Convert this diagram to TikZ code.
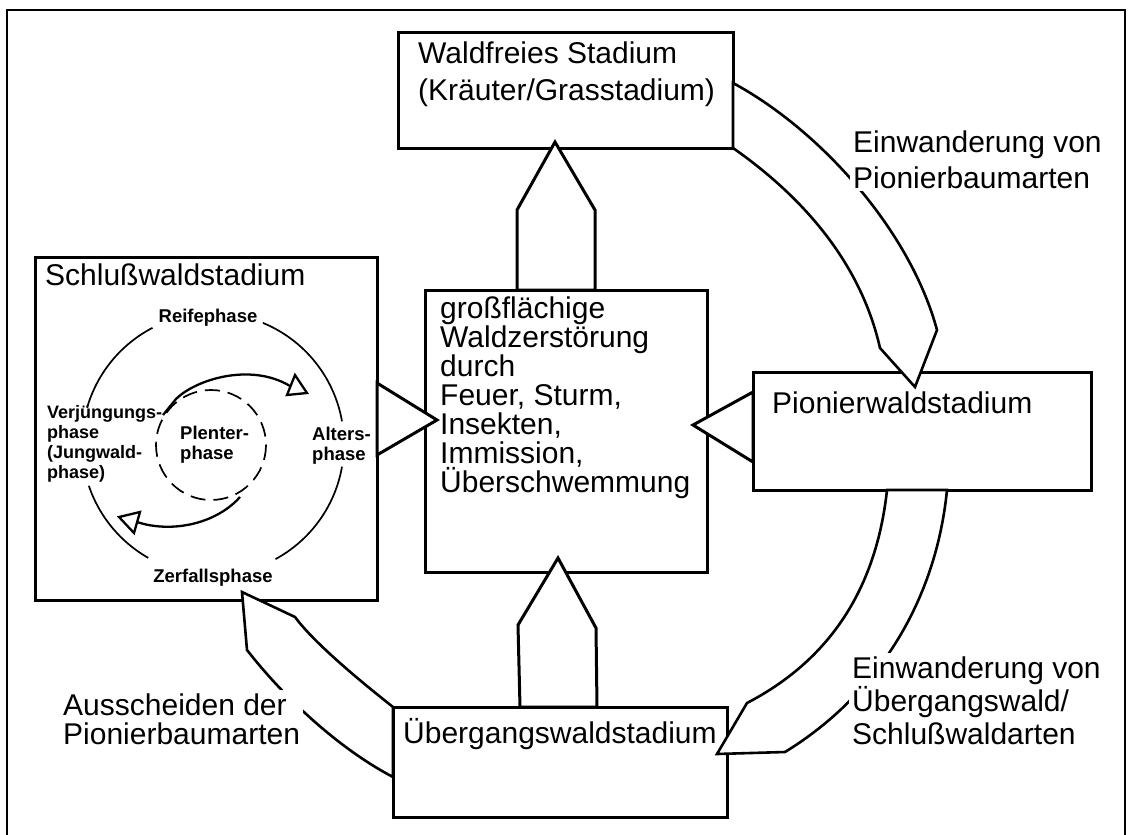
\documentclass[tikz,border=0pt]{standalone}
\usepackage{fontspec}
\setmainfont{Liberation Sans}
\begin{document}
\begin{tikzpicture}[x=1pt,y=-1pt,line join=miter,
  frame/.style={line width=2.5pt},
  stbox/.style={draw,line width=3pt,rectangle,inner sep=0pt,outer sep=0pt},
  bandarrow/.style={draw,fill=white,line width=2.6pt},
  trarrow/.style={draw,fill=white,line width=3pt},
  ring/.style={line width=1.7pt},
  dashring/.style={line width=1.7pt,dash pattern=on 15pt off 8pt},
  cyclearrow/.style={line width=2.3pt},
  opentip/.style={draw,fill=white,line width=2.3pt},
  bigtxt/.style={font=\fontsize{30}{37}\selectfont,align=left,anchor=base west,inner sep=0pt},
  labeltxt/.style={font=\fontsize{30}{36}\selectfont,align=left,anchor=base west,inner sep=3pt,fill=white},
  smalltxt/.style={font=\fontsize{18.5}{19.5}\selectfont\bfseries,align=left,inner sep=0pt}
]
\useasboundingbox (0,0) rectangle (1130,835);
% outer frame
\draw[frame] (7,835) -- (7,10) -- (1125,10) -- (1125,835);

% boxes
\node[stbox,minimum width=335pt,minimum height=116pt] (top) at (565.5,90) {};
\node[stbox,minimum width=282pt,minimum height=282pt] (cen) at (566,431) {};
\node[stbox,minimum width=342pt,minimum height=343pt] (left) at (206,428.5) {};
\node[stbox,minimum width=338pt,minimum height=118pt] (pion) at (922,431) {};
\node[stbox,minimum width=334pt,minimum height=110pt] (ueb) at (560,762) {};

% block arrows up
\path[trarrow] (517,0 |- cen.north) -- (517,210) -- (555,142) -- (595,210) -- (595,0 |- cen.north) -- cycle;
\path[trarrow] (520,0 |- ueb.north) -- (518,625) -- (558,558) -- (596,628) -- (597,0 |- ueb.north) -- cycle;
% triangles into centre box
\path[trarrow] (left.east |- 0,383) -- (437,420) -- (left.east |- 0,455) -- cycle;
\path[trarrow] (pion.west |- 0,392) -- (693,425) -- (pion.west |- 0,462) -- cycle;

% curved band arrows
\path[bandarrow] (top.east |- 0,83) .. controls (820,130) and (910,230) .. (937,330)
  -- (915,387) -- (880,348) .. controls (860,260) and (800,195) .. (top.south east) -- cycle;
\path[bandarrow] (947,0 |- pion.south) .. controls (935,610) and (870,700) .. (785,752)
  -- (717,754) -- (747,703) .. controls (820,665) and (875,600) .. (887,0 |- pion.south) -- cycle;
\path[bandarrow] (ueb.north west) .. controls (350,673) and (312,640) .. (295,617)
  -- (242,592) -- (247,650) .. controls (290,705) and (345,752) .. (ueb.west |- 0,777) -- cycle;

% cycle inside Schlusswald box
\coordinate (cc) at (213,444);
\draw[ring] (cc) ++(-117.5:131) arc[start angle=-117.5,end angle=-163.9,radius=131];
\draw[ring] (cc) ++(-198.6:131) arc[start angle=-198.6,end angle=-240.4,radius=131];
\draw[ring] (cc) ++(-298.5:131) arc[start angle=-298.5,end angle=-350,radius=131];
\draw[ring] (cc) ++(-10:131) arc[start angle=-10,end angle=-67.6,radius=131];
\draw[dashring] (211,445) circle[radius=55];

\coordinate (ua) at (163,415);
\coordinate (ub) at (290,386);
\draw[cyclearrow] (ua) -- (176,399) .. controls (195,380) and (250,362) .. (ub);
\path[opentip] (287,395) -- (295,375) -- (307,393) -- cycle;
\coordinate (la) at (240,497);
\coordinate (lb) at (137,522);
\draw[cyclearrow] (la) .. controls (215,525) and (170,533) .. (lb);
\path[opentip] (119,517) -- (140,512) -- (134,533) -- cycle;

% texts (base anchor = baseline of last line)
\node[bigtxt] (ttop) at (418,100) {Waldfreies Stadium\\(Kräuter/Grasstadium)};
\node[bigtxt,font=\fontsize{30}{29}\selectfont] (tcen) at (440,492)
  {großflächige\\Waldzerstörung\\durch\\Feuer, Sturm,\\Insekten,\\Immission,\\Überschwemmung};
\node[bigtxt] (tleft) at (45,285) {Schlußwaldstadium};
\node[bigtxt] (tpion) at (772,413) {Pionierwaldstadium};
\node[bigtxt] (tueb) at (403,743) {Übergangswaldstadium};

\node[labeltxt] (l1) at (850,188) {Einwanderung von\\Pionierbaumarten};
\node[labeltxt,font=\fontsize{30}{33}\selectfont] (l2) at (849,744) {Einwanderung von\\Übergangswald/\\Schlußwaldarten};
\node[labeltxt,font=\fontsize{30}{29}\selectfont] (l3) at (60,744) {Ausscheiden der\\Pionierbaumarten};

\node[smalltxt,anchor=base] (reife) at (208,322) {Reifephase};
\node[smalltxt,anchor=base west] (alter) at (312,460) {Alters-\\phase};
\node[smalltxt,anchor=base west,font=\fontsize{18}{20}\selectfont\bfseries] (verj) at (47,478) {Verjüngungs-\\phase\\(Jungwald-\\phase)};
\node[smalltxt,anchor=base west] (plenter) at (180,459) {Plenter-\\phase};
\node[smalltxt,anchor=base] (zerfall) at (213,582) {Zerfallsphase};
\end{tikzpicture}
\end{document}
